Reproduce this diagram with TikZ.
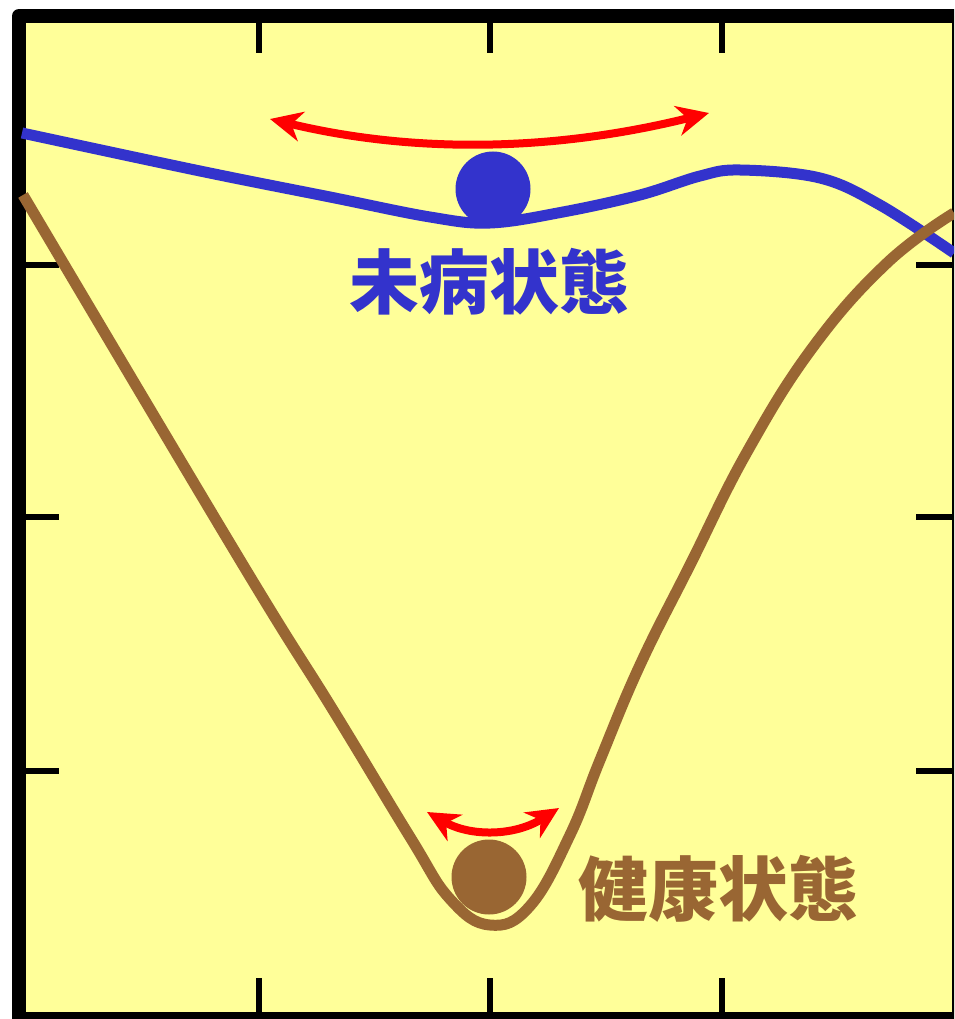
\documentclass[tikz,border=0pt]{standalone}
\usepackage{fontspec}
\newfontfamily\cjk{Noto Sans CJK JP}
\usetikzlibrary{arrows.meta}
\definecolor{lsbg}{RGB}{255,255,153}
\definecolor{lsblue}{RGB}{51,51,204}
\definecolor{lsbrown}{RGB}{153,102,51}
\definecolor{lsred}{RGB}{255,0,0}
\tikzset{
  lsframe/.style={draw=black, line width=14pt, fill=lsbg, line join=round},
  tick/.style={draw=black, line width=6.5pt},
  lscurve/.style={line width=11pt, line join=round},
  ball/.style={circle, minimum size=75pt, inner sep=0pt},
  sway/.style={
    draw=lsred, line width=8pt,
    {Stealth[length=32pt,width=30pt,inset=10pt]}-{Stealth[length=32pt,width=30pt,inset=10pt]}
  },
  statelbl/.style={font=\cjk\bfseries\fontsize{70}{70}\selectfont, inner sep=0pt, anchor=base}
}
\begin{document}
\begin{tikzpicture}[x=1pt,y=-1pt]
  \useasboundingbox (0,0) rectangle (954,1019);
  \clip (0,0) rectangle (954,1019);
  \draw[lsframe] (19,16) rectangle (959,1019);
  \foreach \x in {259,490,722} {
    \draw[tick] (\x,23) -- (\x,53);
    \draw[tick] (\x,978) -- (\x,1012);
  }
  \foreach \y in {265,517,771} {
    \draw[tick] (26,\y) -- (59,\y);
    \draw[tick] (916,\y) -- (952,\y);
  }
  % shallow landscape on top, deep valley below
  \draw[lscurve, lsblue] plot[smooth, tension=0.6] coordinates {
    (22,133) (200,171) (330,197) (430,217) (490,223) (563,212)
    (640,195) (700,176) (740,170) (820,178) (880,205) (954,253)};
  \draw[lscurve, lsbrown] plot[smooth, tension=0.7] coordinates {
    (23,195) (240,560) (333,710) (410,837) (450,899) (490,925)
    (530,906) (570,835) (600,760) (640,665) (690,565) (747,452)
    (813,347) (887,263) (954,213)};
  \node[ball, fill=lsblue] (topball) at (493,189) {};
  \node[ball, fill=lsbrown] (lowball) at (489,877) {};
  \draw[sway] (270,119) .. controls (420,155) and (560,150) .. (709,113);
  \draw[sway] (427,812) .. controls (471,837) and (515,836) .. (559,808);
  \node[statelbl, text=lsblue] (mibyo) at (489,308) {未病状態};
  \node[statelbl, text=lsbrown] (kenko) at (718,915) {健康状態};
\end{tikzpicture}
\end{document}
